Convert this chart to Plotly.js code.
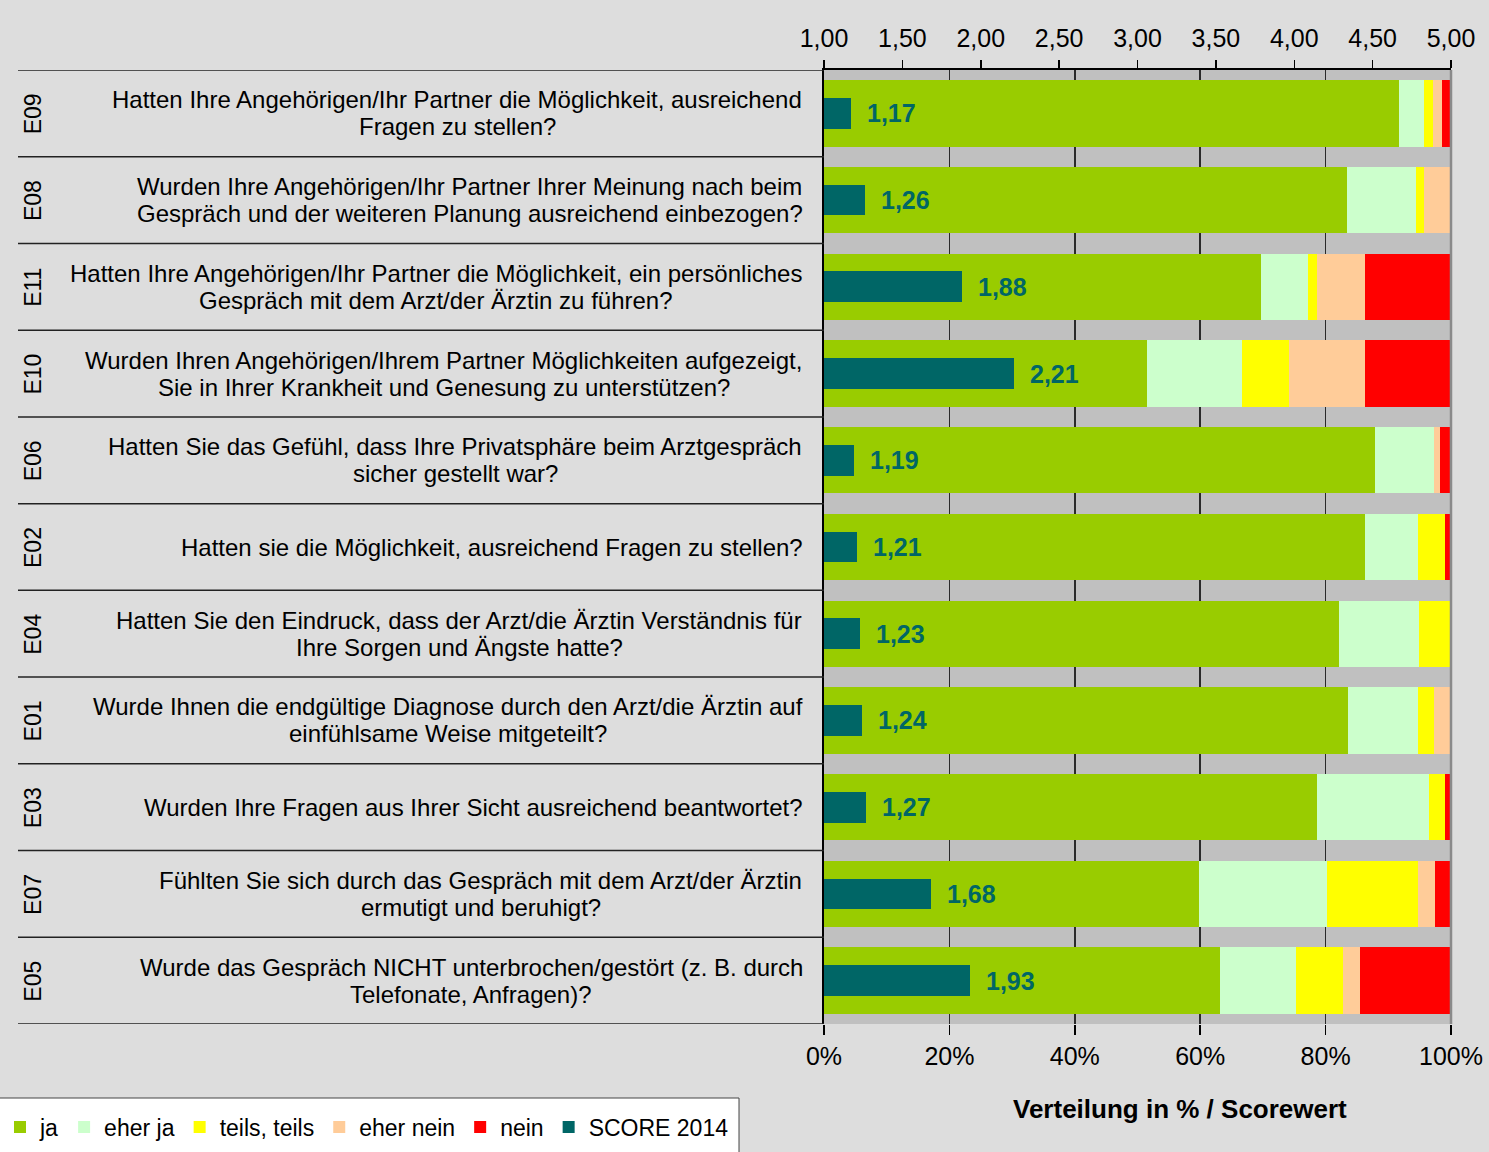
<!DOCTYPE html>
<html>
<head>
<meta charset="utf-8">
<script src="https://cdn.plot.ly/plotly-3.0.1.min.js"></script>
<style>
  body { margin: 0; background: #dddddd; }
  #chart { width: 1489px; height: 1152px; }
</style>
</head>
<body>
<div id="chart"></div>
<script>
// Fragen-Codes (von oben nach unten)
const codes = ['E09', 'E08', 'E11', 'E10', 'E06', 'E02', 'E04', 'E01', 'E03', 'E07', 'E05'];

const fragen = [
    'Hatten Ihre Angehörigen/Ihr Partner die Möglichkeit, ausreichend<br>Fragen zu stellen?',
    'Wurden Ihre Angehörigen/Ihr Partner Ihrer Meinung nach beim<br>Gespräch und der weiteren Planung ausreichend einbezogen?',
    'Hatten Ihre Angehörigen/Ihr Partner die Möglichkeit, ein persönliches<br>Gespräch mit dem Arzt/der Ärztin zu führen?',
    'Wurden Ihren Angehörigen/Ihrem Partner Möglichkeiten aufgezeigt,<br>Sie in Ihrer Krankheit und Genesung zu unterstützen?',
    'Hatten Sie das Gefühl, dass Ihre Privatsphäre beim Arztgespräch<br>sicher gestellt war?',
    'Hatten sie die Möglichkeit, ausreichend Fragen zu stellen?',
    'Hatten Sie den Eindruck, dass der Arzt/die Ärztin Verständnis für<br>Ihre Sorgen und Ängste hatte?',
    'Wurde Ihnen die endgültige Diagnose durch den Arzt/die Ärztin auf<br>einfühlsame Weise mitgeteilt?',
    'Wurden Ihre Fragen aus Ihrer Sicht ausreichend beantwortet?',
    'Fühlten Sie sich durch das Gespräch mit dem Arzt/der Ärztin<br>ermutigt und beruhigt?',
    'Wurde das Gespräch NICHT unterbrochen/gestört (z. B. durch<br>Telefonate, Anfragen)?'
];

// Verteilung in %
const ja       = [91.7, 83.4, 69.7, 51.5, 87.9, 86.3, 82.1, 83.5, 78.7, 59.8, 63.2];
const eherJa   = [4.0, 11.0, 7.5, 15.2, 9.4, 8.5, 12.8, 11.3, 17.8, 20.5, 12.0];
const teils    = [1.5, 1.3, 1.5, 7.5, 0, 4.2, 5.1, 2.5, 2.5, 14.4, 7.6];
const eherNein = [1.4, 4.3, 7.6, 12.1, 1.0, 0, 0, 2.7, 0, 2.7, 2.7];
const nein     = [1.4, 0, 13.7, 13.7, 1.7, 1.0, 0, 0, 1.0, 2.6, 14.5];

// Scorewerte 2014
const score = [1.17, 1.26, 1.88, 2.21, 1.19, 1.21, 1.23, 1.24, 1.27, 1.68, 1.93];

const kategorien = ['ja', 'eher ja', 'teils, teils', 'eher nein', 'nein'];
const werte = [ja, eherJa, teils, eherNein, nein];
const farben = ['#99cc00', '#ccffcc', '#ffff00', '#ffcc99', '#ff0000'];

const FONT = '"Liberation Sans", Arial, sans-serif';

// Plotbereich in Pixeln: links 824, rechts 1451, oben 70, unten 1024
const L = 824, R = 1451, T = 70, B = 1024;
const PW = R - L, PH = B - T;
const px = x => (x - L) / PW;
const py = y => (B - y) / PH;

// Textbreite messen, damit zweizeilige Fragen zentriert untereinander stehen
const ctx = document.createElement('canvas').getContext('2d');
ctx.font = '24px "Liberation Sans"';
const textBreite = t => ctx.measureText(t).width;

const traces = kategorien.map((name, i) => ({
    type: 'bar',
    orientation: 'h',
    name: name,
    x: werte[i],
    y: codes,
    width: 0.765,
    marker: { color: farben[i], line: { width: 0 } },
    xaxis: 'x',
    yaxis: 'y'
}));

traces.push({
    type: 'bar',
    orientation: 'h',
    name: 'SCORE 2014',
    x: score.map(s => s - 1),
    base: 1,
    y: codes,
    width: 0.354,
    marker: { color: '#006666', line: { width: 0 } },
    xaxis: 'x2',
    yaxis: 'y'
});

const annotations = [];
const shapes = [];

codes.forEach((c, i) => {
    // Code links, gedreht
    annotations.push({
        xref: 'paper', yref: 'y', x: px(33), y: c,
        text: c, textangle: -90, showarrow: false,
        xanchor: 'center', yanchor: 'middle',
        font: { family: FONT, size: 23, color: '#000' }
    });

    // Fragetext, Zeilen einzeln (Zeilenabstand 27px)
    const zeilen = fragen[i].split('<br>');
    const maxB = Math.max(...zeilen.map(textBreite));
    const mitte = 803 - maxB / 2;
    zeilen.forEach((z, k) => {
        annotations.push({
            xref: 'paper', yref: 'y', x: px(mitte), y: c,
            yshift: (zeilen.length - 1) * 13.5 - k * 27,
            text: z, showarrow: false,
            xanchor: 'center', yanchor: 'middle',
            font: { family: FONT, size: 24, color: '#000' }
        });
    });

    // Scorewert
    annotations.push({
        xref: 'x2', yref: 'y', x: score[i], y: c,
        text: score[i].toFixed(2).replace('.', ','), showarrow: false,
        xanchor: 'left', yanchor: 'middle', xshift: 14,
        font: { family: FONT, size: 25, color: '#006666', weight: 'bold' }
    });
});

// Trennlinien links
for (let i = 0; i <= codes.length; i++) {
    shapes.push({
        type: 'line', xref: 'paper', yref: 'y',
        x0: px(18), x1: 0, y0: i - 0.5, y1: i - 0.5,
        line: { color: '#222', width: 1.5 }
    });
}
// rechter Rand
shapes.push({
    type: 'line', xref: 'paper', yref: 'paper',
    x0: 1, x1: 1, y0: 0, y1: 1,
    line: { color: '#8a8a8a', width: 2.5 }
});
// Legendenkasten
shapes.push({
    type: 'rect', xref: 'paper', yref: 'paper', layer: 'below',
    x0: px(-2), x1: px(739), y0: py(1098), y1: py(1170),
    fillcolor: '#ffffff', line: { color: '#444', width: 1 }
});

annotations.push({
    xref: 'paper', yref: 'paper', x: px(1180), y: py(1109),
    text: 'Verteilung in % / Scorewert', showarrow: false,
    xanchor: 'center', yanchor: 'middle',
    font: { family: FONT, size: 26, color: '#000', weight: 'bold' }
});

const layout = {
    width: 1489,
    height: 1152,
    margin: { l: L, r: 1489 - R, t: T, b: 1152 - B, pad: 0, autoexpand: false },
    paper_bgcolor: '#dddddd',
    plot_bgcolor: '#c0c0c0',
    barmode: 'stack',
    separators: ',.',
    font: { family: FONT, size: 24, color: '#000' },
    showlegend: true,
    legend: {
        orientation: 'h',
        x: px(0), xanchor: 'left',
        y: py(1127), yanchor: 'middle',
        bgcolor: 'rgba(0,0,0,0)', borderwidth: 0,
        font: { family: FONT, size: 23, color: '#000' },
        traceorder: 'normal'
    },
    xaxis: {
        range: [0, 100], dtick: 20, ticksuffix: '%',
        showgrid: true, gridcolor: '#2a2a2a', gridwidth: 1.5,
        zeroline: false, showline: false,
        ticks: 'outside', ticklen: 10, tickcolor: '#000', tickwidth: 1.5,
        ticklabelstandoff: 0,
        tickfont: { family: FONT, size: 25, color: '#000' },
        fixedrange: true
    },
    xaxis2: {
        overlaying: 'x', side: 'top', anchor: 'y',
        range: [1, 5], dtick: 0.5, tickformat: '.2f',
        showgrid: false, zeroline: false,
        showline: true, linecolor: '#000', linewidth: 2,
        ticks: 'outside', ticklen: 8, tickcolor: '#000', tickwidth: 1.5,
        ticklabelstandoff: 3,
        tickfont: { family: FONT, size: 25, color: '#000' },
        fixedrange: true
    },
    xaxis3: {
        overlaying: 'x', side: 'top', anchor: 'y',
        range: [1, 5], dtick: 0.5,
        showgrid: false, zeroline: false, showline: false,
        ticks: 'inside', ticklen: 8, tickcolor: '#000', tickwidth: 1.5,
        showticklabels: false, fixedrange: true
    },
    yaxis: {
        type: 'category',
        range: [codes.length - 0.5, -0.5],
        showticklabels: false, ticks: '',
        showgrid: false, zeroline: false,
        showline: true, linecolor: '#000', linewidth: 2,
        fixedrange: true
    },
    annotations: annotations,
    shapes: shapes
};

Plotly.newPlot('chart', traces, layout, { displayModeBar: false, staticPlot: true });
</script>
</body>
</html>
